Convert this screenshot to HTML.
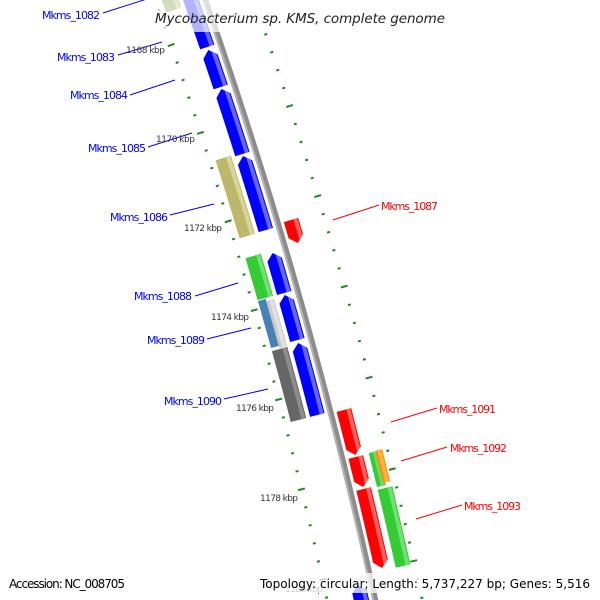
<!DOCTYPE html>
<html><head><meta charset="utf-8">
<style>
html,body{margin:0;padding:0;background:#fff;width:600px;height:600px;overflow:hidden;}
svg{display:block;overflow:hidden;font-family:"DejaVu Sans","Liberation Sans",sans-serif;}
</style></head>
<body>
<svg id="s" width="600" height="600" viewBox="0 0 600 600" xmlns="http://www.w3.org/2000/svg">
<defs id="defs"><clipPath id="frame"><rect x="0" y="0" width="600" height="600"/></clipPath></defs>
<g clip-path="url(#frame)">
<g id="feat"></g>
<g id="labels">
<g font-size="11" fill="#0000ff">
<text x="42" y="19" textLength="58">Mkms_1082</text>
<text x="57" y="61" textLength="58">Mkms_1083</text>
<text x="70" y="99" textLength="58">Mkms_1084</text>
<text x="88" y="152" textLength="58">Mkms_1085</text>
<text x="110" y="221" textLength="58">Mkms_1086</text>
<text x="134" y="300" textLength="58">Mkms_1088</text>
<text x="147" y="344" textLength="58">Mkms_1089</text>
<text x="164" y="405" textLength="58">Mkms_1090</text>
</g>
<g stroke="#0000ff" stroke-width="1">
<line x1="103" y1="13" x2="150" y2="-2"/>
<line x1="118" y1="55" x2="162" y2="42"/>
<line x1="130" y1="95" x2="175" y2="80"/>
<line x1="148" y1="147" x2="192" y2="133"/>
<line x1="170" y1="215" x2="214" y2="204"/>
<line x1="195" y1="296" x2="238" y2="283"/>
<line x1="207" y1="339" x2="251" y2="328"/>
<line x1="224" y1="399" x2="268" y2="389"/>
</g>
<g font-size="11" fill="#ff0000">
<text x="381" y="210" textLength="57">Mkms_1087</text>
<text x="439" y="413" textLength="57">Mkms_1091</text>
<text x="450" y="452" textLength="57">Mkms_1092</text>
<text x="464" y="510" textLength="57">Mkms_1093</text>
</g>
<g stroke="#ff0000" stroke-width="1">
<line x1="333" y1="220" x2="379" y2="205"/>
<line x1="391" y1="422" x2="437" y2="408"/>
<line x1="401" y1="461" x2="447" y2="447"/>
<line x1="416" y1="519" x2="462" y2="505"/>
</g>
<g font-size="9" fill="#333">
<text x="126" y="53" textLength="39">1168 kbp</text>
<text x="156" y="142" textLength="39">1170 kbp</text>
<text x="184" y="231" textLength="38">1172 kbp</text>
<text x="211" y="320" textLength="38">1174 kbp</text>
<text x="236" y="411" textLength="38">1176 kbp</text>
<text x="260" y="501" textLength="38">1178 kbp</text>
<text x="285" y="592" textLength="38">1180 kbp</text>
</g>
</g>
<rect x="150" y="0" width="300" height="32" fill="#fff" opacity="0.7"/>
<text x="155" y="23" font-size="13.5" font-style="italic" fill="#222" textLength="290">Mycobacterium sp. KMS, complete genome</text>
<rect x="4" y="573" width="128" height="20" fill="#fff" opacity="0.75"/>
<rect x="255" y="573" width="340" height="20" fill="#fff" opacity="0.75"/>
<text x="9" y="588" font-size="12" fill="#000" textLength="116">Accession: NC_008705</text>
<text x="260" y="588" font-size="12" fill="#000" textLength="330">Topology: circular; Length: 5,737,227 bp; Genes: 5,516</text>
</g>
</svg>
<script>
(function(){
var NS="http://www.w3.org/2000/svg";
var R0=5058,cx=-4567,cy=1676;
var phA=Math.atan2(0-cy,205-cx);
function P(off,s){var ph=phA+s/R0,r=R0+off;return [cx+r*Math.cos(ph),cy+r*Math.sin(ph)];}
function sAt(off,y){var a=-300,b=1000;for(var i=0;i<60;i++){var m=(a+b)/2;if(P(off,m)[1]<y)a=m;else b=m;}return (a+b)/2;}
function arcPts(off,s1,s2){var pts=[],n=Math.max(2,Math.ceil(Math.abs(s2-s1)/8));for(var i=0;i<=n;i++){pts.push(P(off,s1+(s2-s1)*i/n));}return pts;}
function d(pts){return "M"+pts.map(function(p){return p[0].toFixed(2)+","+p[1].toFixed(2);}).join("L")+"Z";}
var feat=document.getElementById("feat"),defs=document.getElementById("defs");
function el(tag,attrs,parent){var e=document.createElementNS(NS,tag);for(var k in attrs)e.setAttribute(k,attrs[k]);(parent||feat).appendChild(e);return e;}
function shape(o1,o2,s1,s2,dir){
 var h=7,mid=(o1+o2)/2,pts=[];
 if(dir===0){pts=arcPts(o1,s1,s2).concat(arcPts(o2,s2,s1));}
 else if(dir<0){pts=[P(mid,s1)].concat(arcPts(o2,s1+h,s2)).concat(arcPts(o1,s2,s1+h));}
 else {pts=arcPts(o1,s1,s2-h).concat([P(mid,s2)]).concat(arcPts(o2,s2-h,s1));}
 return d(pts);
}
var cid=0;
function feature(o1,o2,y1,y2,dir,col,light){
 var mid=(o1+o2)/2;
 var s1=sAt(mid,y1),s2=sAt(mid,y2);
 var path=shape(o1,o2,s1,s2,dir);
 el("path",{d:path,fill:col});
 if(light){
  cid++;var cp=el("clipPath",{id:"c"+cid},defs);el("path",{d:path},cp);
  el("path",{d:shape(o2-5,o2-1,s1-10,s2+10,0),fill:light,"clip-path":"url(#c"+cid+")"});
 }
}
var sb1=-20,sb2=640;
el("path",{d:d(arcPts(-3,sb1,sb2).concat(arcPts(3,sb2,sb1))),fill:"#8c8c8c"});
el("path",{d:d(arcPts(-3,sb1,sb2).concat(arcPts(-1,sb2,sb1))),fill:"#b4b4b4"});
function ticks(off,y0){
 var s0=sAt(off,y0),step=18.7;
 for(var k=-4;k<36;k++){
  var s=s0+k*step, major=(k%5===0);
  var len=major?7:3;
  var a=P(off-len/2,s),b=P(off+len/2,s);
  if(a[1]<-5||a[1]>605)continue;
  el("line",{x1:a[0],y1:a[1],x2:b[0],y2:b[1],stroke:"#1f8a1f","stroke-width":2});
 }
}
ticks(-47,45);
ticks(46,106);
var B="#0000ff",BL="#6666ff";
feature(-21,-6,-12,47,-1,B,BL);
feature(-21,-6,50,87,-1,B,BL);
feature(-21,-6,89,154,-1,B,BL);
feature(-21,-6,156,230,-1,B,BL);
feature(-21,-6,253,293,-1,B,BL);
feature(-21,-6,295,340,-1,B,BL);
feature(-21,-6,343,415,-1,B,BL);
feature(-21,-6,585,620,-1,B,BL);
feature(-41,-25,-20,10,0,"#6b8e23","#a4c060");
feature(-41,-25,158,236,0,"#bdb76b","#d8d49a");
feature(-41,-25,256,298,0,"#33cc33","#70e070");
feature(-41,-33,300,347,0,"#4682b4",null);
feature(-33,-25,300,347,0,"#c8c8c8","#e0e0e0");
feature(-41,-25,349,420,0,"#666666","#8c8c8c");
var Rr="#ff0000",RL="#ff6060";
feature(6,21,220,243,1,Rr,RL);
feature(6,21,410,455,1,Rr,RL);
feature(6,21,457,487,1,Rr,RL);
feature(6,21,489,568,1,Rr,RL);
feature(27,36,452,486,0,"#33cc33","#66dd66");
feature(34,41,450,482,0,"#ff8c00","#ffb040");
feature(27,42,488,566,0,"#33cc33","#70e070");
})();
</script>
</body></html>
